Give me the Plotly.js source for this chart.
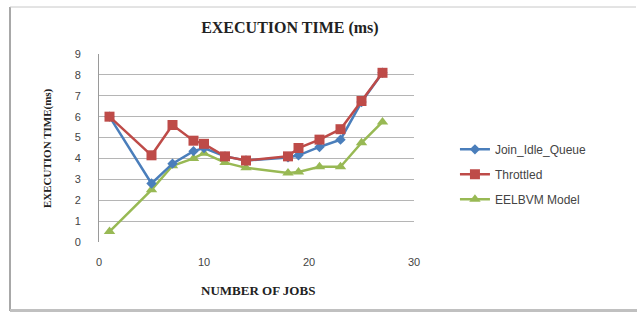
<!DOCTYPE html>
<html><head><meta charset="utf-8">
<script src="https://cdn.plot.ly/plotly-3.0.1.min.js"></script>
<style>html,body{margin:0;padding:0;background:#fff}#chart{width:637px;height:312px}</style>
</head><body><div id="chart"></div>
<script>
const jobsJIQ = [1, 5, 7, 9, 10, 12, 14, 18, 19, 21, 23, 25, 27];
const joinIdleQueue = [6.0, 2.8, 3.75, 4.35, 4.5, 4.1, 3.9, 4.05, 4.15, 4.55, 4.9, 6.7, 8.1];
const jobsThr = [1, 5, 7, 9, 10, 12, 14, 18, 19, 21, 23, 25, 27];
const throttled = [6.0, 4.15, 5.6, 4.85, 4.7, 4.1, 3.9, 4.1, 4.5, 4.9, 5.4, 6.75, 8.1];
const jobsEEL = [1, 5, 7, 9, 10, 12, 14, 18, 19, 21, 23, 25, 27];
const eelbvm = [0.5, 2.5, 3.65, 4.0, 4.25, 3.8, 3.55, 3.3, 3.35, 3.6, 3.6, 4.75, 5.75];
const seriesNames = ['Join_Idle_Queue', 'Throttled', 'EELBVM Model'];
const xTickVals = [0, 10, 20, 30];
const yTickVals = [0, 1, 2, 3, 4, 5, 6, 7, 8, 9];

const traces = [
  {x: jobsJIQ, y: joinIdleQueue, name: seriesNames[0], legendgroup: 'a', mode: 'lines+markers',
   line: {color: '#4a7ebb', width: 2.5}, marker: {symbol: 'diamond', size: 8, color: '#4a7ebb'}},
  {x: jobsThr, y: throttled, name: seriesNames[1], legendgroup: 'b', mode: 'lines+markers',
   line: {color: '#be4b48', width: 2.5}, marker: {symbol: 'square', size: 10, color: '#be4b48'}},
  {x: jobsEEL, y: eelbvm, name: seriesNames[2], legendgroup: 'c', mode: 'lines+markers',
   line: {color: '#98b954', width: 2.5}, marker: {symbol: 'triangle-up', size: 10, color: '#98b954'}}
];
const ordered = [traces[2], traces[0], traces[1]];
traces[2].legendrank = 3; traces[0].legendrank = 1; traces[1].legendrank = 2;

const serif = 'Liberation Serif, Times New Roman, serif';
const layout = {
  width: 637, height: 312,
  margin: {l: 99, r: 223, t: 54, b: 70},
  paper_bgcolor: '#fff', plot_bgcolor: '#fff',
  showlegend: true,
  title: {text: '<b>EXECUTION TIME (ms)</b>', font: {family: serif, size: 16, color: '#222'},
          xref: 'paper', x: 0.606, xanchor: 'center', yref: 'container', y: 0.912, yanchor: 'middle'},
  xaxis: {range: [0, 30], tickvals: xTickVals, showgrid: false, zeroline: false, showline: false,
          ticks: '', tickfont: {family: 'Liberation Sans, Arial, sans-serif', size: 11, color: '#444'},
          ticklabelstandoff: 12, fixedrange: true},
  yaxis: {range: [0, 9], tickvals: yTickVals, showgrid: true, gridcolor: '#b5b5b5', gridwidth: 1,
          zeroline: false, showline: true, linecolor: '#9a9a9a', linewidth: 1, ticks: '',
          tickfont: {family: 'Liberation Sans, Arial, sans-serif', size: 11, color: '#444'},
          ticklabelstandoff: 15, fixedrange: true},
  legend: {x: 1.13, xanchor: 'left', y: 0.57, yanchor: 'top', traceorder: 'grouped', tracegroupgap: 6,
           font: {family: 'Liberation Sans, Arial, sans-serif', size: 12, color: '#444'},
           bgcolor: 'rgba(0,0,0,0)', itemwidth: 30},
  annotations: [
    {text: '<b>EXECUTION TIME(ms)</b>', xref: 'paper', yref: 'paper', x: (47 - 99) / 315, y: (242 - 148) / 188,
     textangle: -90, showarrow: false, font: {family: serif, size: 11, color: '#222'}, xanchor: 'center', yanchor: 'middle'},
    {text: '<b>NUMBER OF JOBS</b>', xref: 'paper', yref: 'paper', x: (258 - 99) / 315, y: (242 - 290) / 188,
     showarrow: false, font: {family: serif, size: 13, color: '#222'}, xanchor: 'center', yanchor: 'middle'}
  ],
  shapes: [
    {type: 'line', xref: 'paper', yref: 'paper', x0: (10 - 99) / 315, x1: (10 - 99) / 315, y0: (242 - 7) / 188, y1: (242 - 311) / 188,
     line: {color: '#a8a8a8', width: 2}},
    {type: 'line', xref: 'paper', yref: 'paper', x0: (10 - 99) / 315, x1: (636 - 99) / 315, y0: (242 - 7) / 188, y1: (242 - 7) / 188,
     line: {color: '#c8c8c8', width: 1}},
    {type: 'line', xref: 'paper', yref: 'paper', x0: (10 - 99) / 315, x1: (637 - 99) / 315, y0: (242 - 310.5) / 188, y1: (242 - 310.5) / 188,
     line: {color: '#c0c0c0', width: 3}}
  ]
};
Plotly.newPlot('chart', ordered, layout, {displayModeBar: false, staticPlot: true});
</script></body></html>
